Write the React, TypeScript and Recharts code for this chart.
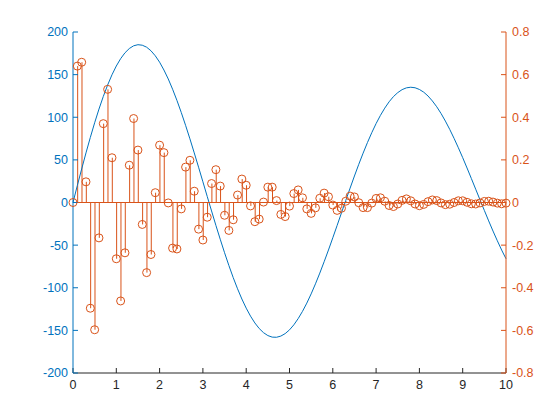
import {
  ComposedChart,
  Line,
  Bar,
  Scatter,
  XAxis,
  YAxis,
  ReferenceLine,
} from 'recharts';

const BLUE = '#0072BD';
const ORANGE = '#D95319';
const INK = '#262626';
const FONT = '"Liberation Sans", Arial, sans-serif';

const xs = [
  0, 0.1, 0.2, 0.3, 0.4, 0.5, 0.6, 0.7, 0.8, 0.9,
  1, 1.1, 1.2, 1.3, 1.4, 1.5, 1.6, 1.7, 1.8, 1.9,
  2, 2.1, 2.2, 2.3, 2.4, 2.5, 2.6, 2.7, 2.8, 2.9,
  3, 3.1, 3.2, 3.3, 3.4, 3.5, 3.6, 3.7, 3.8, 3.9,
  4, 4.1, 4.2, 4.3, 4.4, 4.5, 4.6, 4.7, 4.8, 4.9,
  5, 5.1, 5.2, 5.3, 5.4, 5.5, 5.6, 5.7, 5.8, 5.9,
  6, 6.1, 6.2, 6.3, 6.4, 6.5, 6.6, 6.7, 6.8, 6.9,
  7, 7.1, 7.2, 7.3, 7.4, 7.5, 7.6, 7.7, 7.8, 7.9,
  8, 8.1, 8.2, 8.3, 8.4, 8.5, 8.6, 8.7, 8.8, 8.9,
  9, 9.1, 9.2, 9.3, 9.4, 9.5, 9.6, 9.7, 9.8, 9.9,
  10,
];

// left axis curve
const wave = [
  0, 19.9, 39.3, 58.2, 76.3, 93.5, 109.6, 124.4, 137.8, 149.8,
  160.1, 168.7, 175.6, 180.6, 183.8, 185.1, 184.5, 182.2, 178.0, 172.1,
  164.6, 155.4, 144.9, 132.9, 119.8, 105.6, 90.5, 74.7, 58.2, 41.4,
  24.3, 7.1, -9.9, -26.8, -43.1, -58.9, -73.9, -88.1, -101.2, -113.2,
  -123.9, -133.3, -141.3, -147.8, -152.7, -156.1, -157.9, -158.1, -156.7, -153.8,
  -149.4, -143.5, -136.2, -127.7, -118.0, -107.2, -95.4, -82.8, -69.5, -55.7,
  -41.4, -26.9, -12.2, 2.5, 16.9, 31.1, 44.8, 57.9, 70.3, 81.9,
  92.6, 102.2, 110.7, 118.1, 124.2, 128.9, 132.4, 134.5, 135.2, 134.6,
  132.6, 129.4, 124.9, 119.1, 112.3, 104.4, 95.5, 85.8, 75.3, 64.2,
  52.6, 40.5, 28.1, 15.6, 3.1, -9.3, -21.6, -33.5, -44.9, -55.8,
  -66.0,
];

// right axis stems
const stems = [
  0, 0.64, 0.658, 0.097, -0.496, -0.597, -0.166, 0.37, 0.531, 0.21,
  -0.264, -0.462, -0.236, 0.175, 0.394, 0.246, -0.103, -0.329, -0.244, 0.046,
  0.269, 0.234, -0.002, -0.214, -0.218, -0.03, 0.166, 0.198, 0.053, -0.125,
  -0.176, -0.069, 0.089, 0.154, 0.077, -0.06, -0.131, -0.081, 0.035, 0.11,
  0.081, -0.016, -0.09, -0.078, 0.002, 0.072, 0.072, 0.009, -0.056, -0.066,
  -0.017, 0.042, 0.059, 0.022, -0.03, -0.051, -0.025, 0.02, 0.044, 0.027,
  -0.012, -0.037, -0.027, 0.006, 0.03, 0.026, -0.001, -0.024, -0.024, -0.003,
  0.019, 0.022, 0.006, -0.014, -0.019, -0.007, 0.01, 0.017, 0.008, -0.007,
  -0.015, -0.009, 0.004, 0.012, 0.009, -0.002, -0.01, -0.008, 0, 0.008,
  0.008, 0.001, -0.006, -0.007, -0.002, 0.005, 0.006, 0.002, -0.003, -0.006,
  -0.003,
];

const xTicks = [0, 1, 2, 3, 4, 5, 6, 7, 8, 9, 10];
const leftTicks = [-200, -150, -100, -50, 0, 50, 100, 150, 200];
const rightTicks = [-0.8, -0.6, -0.4, -0.2, 0, 0.2, 0.4, 0.6, 0.8];

const data = xs.map((x, i) => ({ x, left: wave[i], right: stems[i] }));

function StemLine(props: any) {
  const { x, y, width, height } = props;
  if (x == null || y == null) return null;
  const cx = x + width / 2;
  return <line x1={cx} x2={cx} y1={y} y2={y + height} stroke={ORANGE} strokeWidth={1} />;
}

function StemHead(props: any) {
  const { cx, cy } = props;
  if (cx == null || cy == null) return null;
  return <circle cx={cx} cy={cy} r={4} fill="none" stroke={ORANGE} strokeWidth={1} />;
}

export default function App() {
  return (
    <div style={{ position: 'absolute', left: 0, top: 0, background: '#fff' }}>
      <ComposedChart
        width={560}
        height={420}
        data={data}
        margin={{ top: 32, right: 0, bottom: 27, left: 0 }}
      >
        <XAxis
          dataKey="x"
          type="number"
          domain={[0, 10]}
          ticks={xTicks}
          height={20}
          stroke={INK}
          tickSize={-5}
          tickMargin={12}
          tick={{ fill: INK, fontSize: 12.5, fontFamily: FONT }}
        />
        <XAxis
          xAxisId="top"
          orientation="top"
          type="number"
          domain={[0, 10]}
          ticks={xTicks}
          height={0}
          stroke={INK}
          tickSize={-5}
          tick={false}
        />
        <YAxis
          yAxisId="left"
          domain={[-200, 200]}
          ticks={leftTicks}
          width={73}
          stroke={BLUE}
          tickSize={-5}
          tickMargin={10}
          tick={{ fill: BLUE, fontSize: 12.5, fontFamily: FONT }}
        />
        <YAxis
          yAxisId="right"
          orientation="right"
          domain={[-0.8, 0.8]}
          ticks={rightTicks}
          width={54}
          stroke={ORANGE}
          tickSize={-5}
          tickMargin={11}
          tick={{ fill: ORANGE, fontSize: 12.5, fontFamily: FONT }}
        />
        <Line
          yAxisId="left"
          dataKey="left"
          type="linear"
          stroke={BLUE}
          strokeWidth={1}
          dot={false}
          isAnimationActive={false}
        />
        <ReferenceLine yAxisId="right" y={0} stroke={ORANGE} strokeWidth={1} />
        <Bar
          yAxisId="right"
          dataKey="right"
          barSize={1}
          shape={StemLine}
          isAnimationActive={false}
        />
        <Scatter
          yAxisId="right"
          dataKey="right"
          shape={StemHead}
          isAnimationActive={false}
        />
      </ComposedChart>
    </div>
  );
}
